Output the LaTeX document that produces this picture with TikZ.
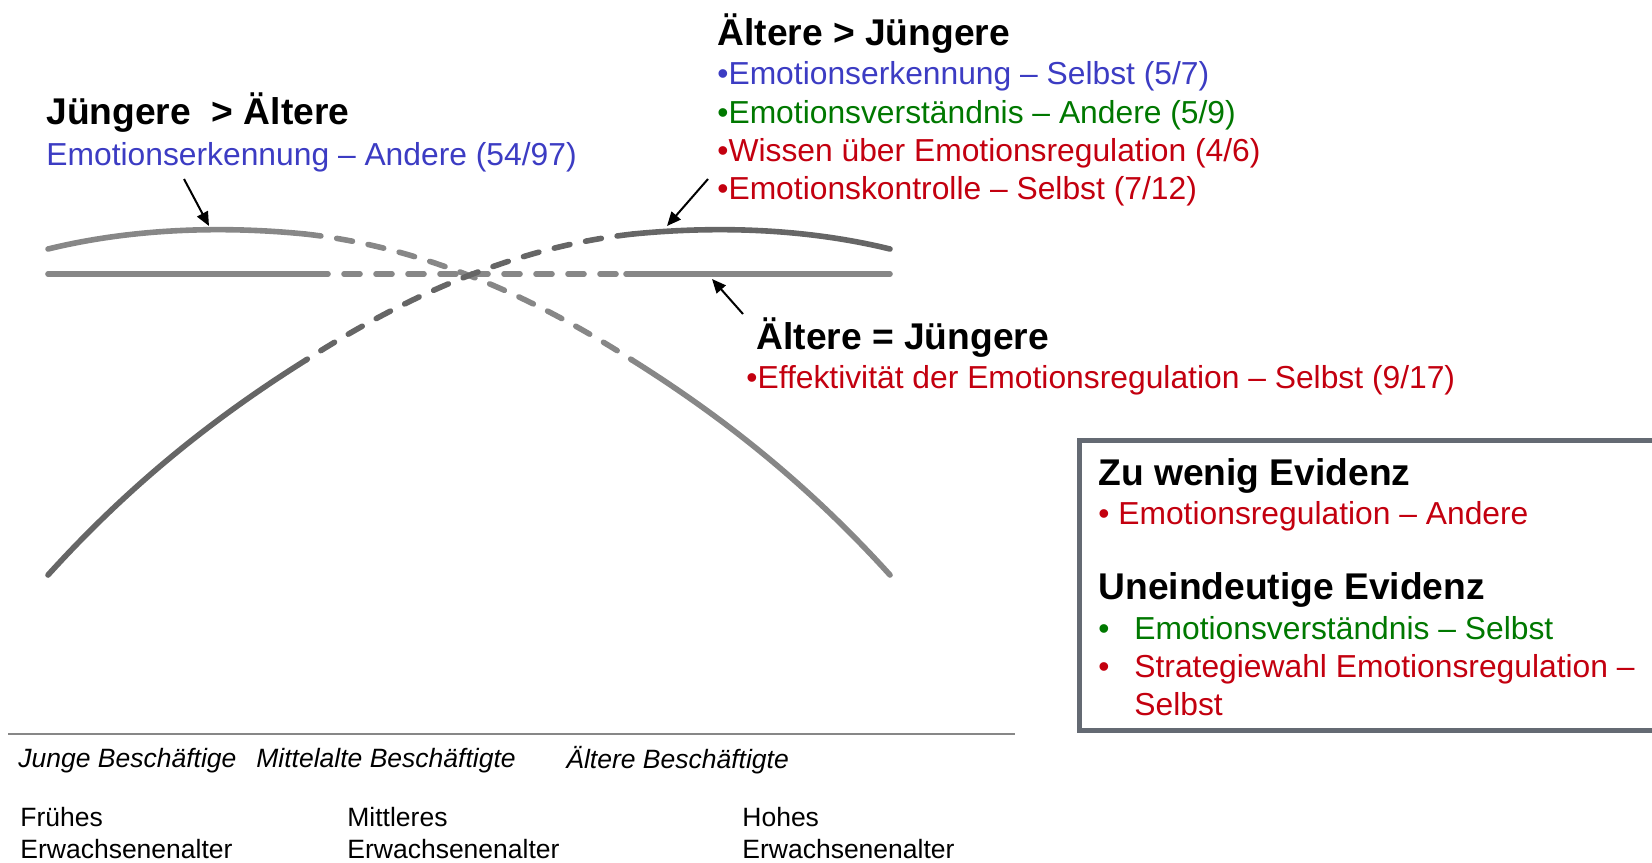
\documentclass[tikz,border=0pt]{standalone}
\usepackage{fontspec}
\setmainfont{Liberation Sans}
\usetikzlibrary{arrows.meta,positioning}

\definecolor{blau}{RGB}{60,60,195}
\definecolor{gruen}{RGB}{0,120,0}
\definecolor{rot}{RGB}{195,0,15}
\definecolor{hell}{RGB}{135,135,135}
\definecolor{dunkel}{RGB}{102,102,102}
\definecolor{rahmen}{RGB}{100,106,115}

\begin{document}
\begin{tikzpicture}[x=0.5pt,y=-0.5pt,
  kopf/.style={anchor=base west, inner sep=0pt, font=\fontsize{18.6}{22}\selectfont\bfseries},
  txt/.style={anchor=base west, inner sep=0pt, font=\fontsize{15.9}{19}\selectfont},
  achse/.style={anchor=base west, inner sep=0pt, font=\fontsize{13.25}{16}\selectfont},
  kurve/.style={line width=2.8pt, line cap=round},
  gestr/.style={kurve, dash pattern=on 8pt off 8pt},
  pfeil/.style={line width=1pt, -{Triangle[length=7pt,width=6pt]}}]
\useasboundingbox (0,0) rectangle (1652,862);

% horizontale Linie
\draw[kurve, hell] (48,274) -- (312,274);
\draw[gestr, hell] (312,274) -- (626,274);
\draw[kurve, hell] (626,274) -- (890,274);

% Juengere > Aeltere
\draw[kurve, hell] (48,249) .. controls (134,228) and (224,226) .. (305,234);
\draw[gestr, hell] (305,234) .. controls (414,246) and (523,290) .. (632,360);
\draw[kurve, hell] (632,360) .. controls (718,414) and (804,480) .. (890,575);

% Aeltere > Juengere
\draw[kurve, dunkel] (890,249) .. controls (804,228) and (714,226) .. (633,234);
\draw[gestr, dunkel] (633,234) .. controls (524,246) and (415,290) .. (306,360);
\draw[kurve, dunkel] (306,360) .. controls (220,414) and (134,480) .. (48,575);

% Texte oben links
\node[kopf] (jaKopf) at (46,124) {Jüngere~~> Ältere};
\node[txt, text=blau] (jaText) at (46,165) {Emotionserkennung – Andere (54/97)};

% Texte oben rechts
\node[kopf] (ajKopf) at (717,45) {Ältere > Jüngere};
\node[txt, text=blau] (aj1) at (717,84) {•Emotionserkennung – Selbst (5/7)};
\node[txt, text=gruen] (aj2) at (717,123) {•Emotionsverständnis – Andere (5/9)};
\node[txt, text=rot] (aj3) at (717,161) {•Wissen über Emotionsregulation (4/6)};
\node[txt, text=rot] (aj4) at (717,199) {•Emotionskontrolle – Selbst (7/12)};

% gleich
\node[kopf] (glKopf) at (756,349) {Ältere = Jüngere};
\node[txt, text=rot] (glText) at (746,388) {•Effektivität der Emotionsregulation – Selbst (9/17)};

% Pfeile
\coordinate (jaFuss) at (184,179);
\coordinate (jaSpitze) at (209,226);
\coordinate (ajFuss) at (708,179);
\coordinate (ajSpitze) at (667,226);
\coordinate (glFuss) at (743,314);
\coordinate (glSpitze) at (712,279);
\draw[pfeil] (jaFuss) -- (jaSpitze);
\draw[pfeil] (ajFuss) -- (ajSpitze);
\draw[pfeil] (glFuss) -- (glSpitze);

% Kasten
\draw[rahmen, line width=2.5pt] (1079.5,440) rectangle (1720,730.5);
\node[kopf] (zwKopf) at (1098,485) {Zu wenig Evidenz};
\node[txt, text=rot] (zw1) at (1098,524) {• Emotionsregulation – Andere};
\node[kopf] (ueKopf) at (1098,599) {Uneindeutige Evidenz};
\node[txt, text=gruen] (ue1) at (1098,639) {\makebox[18pt][l]{•}Emotionsverständnis – Selbst};
\node[txt, text=rot] (ue2) at (1098,677) {\makebox[18pt][l]{•}Strategiewahl Emotionsregulation –};
\node[txt, text=rot] (ue3) at (1134,715) {Selbst};

% Achse
\coordinate (aLinks) at (8,734);
\coordinate (aRechts) at (1015,734);
\draw[hell, line width=1pt] (aLinks) -- (aRechts);
\node[achse, font=\fontsize{13.25}{16}\selectfont\itshape] (jung) at (18,767) {Junge Beschäftige};
\node[achse, font=\fontsize{13.25}{16}\selectfont\itshape] (mittel) at (256,767) {Mittelalte Beschäftigte};
\node[achse, font=\fontsize{13.25}{16}\selectfont\itshape] (alt) at (566,768) {Ältere Beschäftigte};
\node[achse] (fr1) at (20,826) {Frühes};
\node[achse] (fr2) at (20,858) {Erwachsenenalter};
\node[achse] (mi1) at (347,826) {Mittleres};
\node[achse] (mi2) at (347,858) {Erwachsenenalter};
\node[achse] (ho1) at (742,826) {Hohes};
\node[achse] (ho2) at (742,858) {Erwachsenenalter};
\end{tikzpicture}
\end{document}
